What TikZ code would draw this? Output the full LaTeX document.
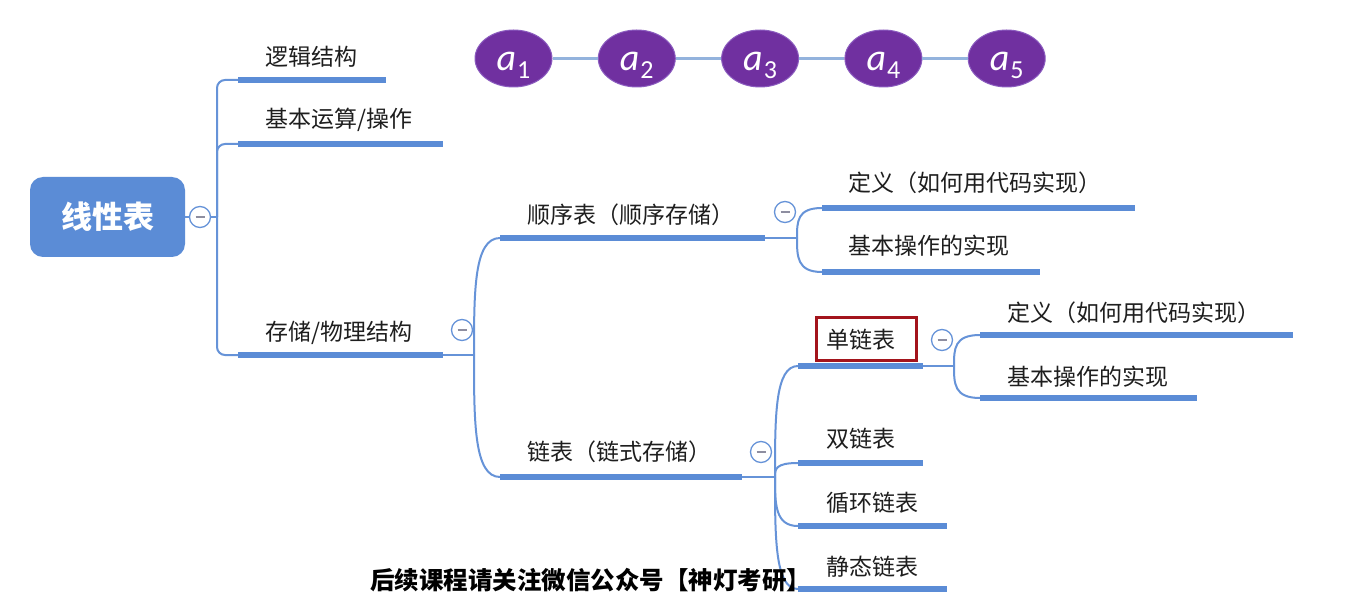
\documentclass[tikz,border=0pt]{standalone}
\usepackage{fontspec}
\newfontfamily\zhfont{Noto Sans CJK SC}
\newfontfamily\elfont{Carlito}
\usetikzlibrary{positioning, calc, shapes.geometric}
\definecolor{mapblue}{HTML}{5B8CD6}
\definecolor{lineblue}{HTML}{6693D8}
\definecolor{chainblue}{HTML}{93B3DD}
\definecolor{elpurple}{HTML}{7030A0}
\definecolor{eledge}{HTML}{8B5CBF}
\definecolor{markred}{HTML}{A3141C}
\definecolor{minusgray}{HTML}{8E8EA0}
\definecolor{ink}{HTML}{1E1E1E}
\newcommand{\elem}[1]{{\itshape a\kern1pt}\raisebox{-8pt}{\fontsize{26}{28}\selectfont #1}}
\newcommand{\foldmark}{\textcolor{minusgray}{\rule{9pt}{1.2pt}}}
\tikzset{
  t/.style={font=\zhfont\fontsize{23}{27}\selectfont, text=ink, anchor=west, inner sep=0pt},
  note/.style={font=\zhfont\bfseries\fontsize{24.5}{28}\selectfont, text=black, anchor=west, inner sep=0pt},
  root/.style={fill=mapblue, rounded corners=13pt, minimum width=155pt, minimum height=80pt, font=\zhfont\bfseries\fontsize{31}{36}\selectfont, text=white},
  bar/.style={fill=mapblue, minimum width=#1, minimum height=5.5pt, inner sep=0pt, anchor=west},
  ln/.style={draw=lineblue, line width=2pt},
  branch/.style={to path={.. controls ($(\tikztostart)!0.55!(\tikztostart |- \tikztotarget)$) and (\tikztostart |- \tikztotarget) .. (\tikztotarget)}},
  fold/.style={circle, draw=lineblue, fill=white, line width=1.3pt, minimum size=21pt, inner sep=0pt},
  redbox/.style={draw=markred, line width=3pt, minimum width=100pt, minimum height=42pt},
  el/.style={ellipse, fill=elpurple, draw=eledge, line width=1pt, minimum width=77pt, minimum height=57pt, inner sep=0pt, text height=32pt, text depth=8pt, font=\elfont\fontsize{38}{42}\selectfont, text=white},
  chain/.style={draw=chainblue, line width=2.5pt},
}
\begin{document}
\begin{tikzpicture}[x=1pt, y=-1pt]
\path[use as bounding box, fill=white] (0,0) rectangle (1345,604);

% elements of the list
\node[el] (a1) at (513.5,58.5) {\elem{1}};
\foreach \i [remember=\i as \j (initially 1)] in {2,...,5}{
  \node[el, right=45.3pt of a\j] (a\i) {\elem{\i}};
  \draw[chain] (a\j) -- (a\i);
}

% root and first level
\node[root] (root) at (107.5,217) {线性表};
\coordinate (trunk) at (217,217);
\node[bar=148] (logicbar) at (238,80) {};
\node[bar=205] (basicbar) at (238,144) {};
\node[bar=205] (storebar) at (238,355) {};
\node[t] (logic) at ($(logicbar.west)+(27,-23)$) {逻辑结构};
\node[t] (basic) at ($(basicbar.west)+(27,-24)$) {基本运算/操作};
\node[t] (store) at ($(storebar.west)+(27,-22)$) {存储/物理结构};

% storage
\coordinate (storefork) at (474,355);
\node[bar=265] (seqbar) at (500,238) {};
\node[bar=242] (linkbar) at (500,477) {};
\node[t] (seq) at ($(seqbar.west)+(27,-23)$) {顺序表（顺序存储）};
\node[t] (link) at ($(linkbar.west)+(27,-25)$) {链表（链式存储）};

% sequential list
\coordinate (seqfork) at (797,238);
\node[bar=313] (def1bar) at (822,208) {};
\node[bar=218] (op1bar) at (822,272) {};
\node[t] (def1) at ($(def1bar.west)+(26,-25)$) {定义（如何用代码实现）};
\node[t] (op1) at ($(op1bar.west)+(26,-26)$) {基本操作的实现};

% linked lists
\coordinate (linkfork) at (775,477);
\node[bar=125] (singlebar) at (798,366) {};
\node[bar=125] (dblbar) at (798,463) {};
\node[bar=149] (circbar) at (798,526) {};
\node[bar=149] (statbar) at (798,589) {};
\node[t] (single) at ($(singlebar.west)+(28,-26)$) {单链表};
\node[t] (dbl) at ($(dblbar.west)+(28,-24)$) {双链表};
\node[t] (circ) at ($(circbar.west)+(28,-23)$) {循环链表};
\node[t] (stat) at ($(statbar.west)+(28,-22)$) {静态链表};
\node[redbox] (hl) at (866,339) {};

\coordinate (singlefork) at (954,366);
\node[bar=313] (def2bar) at (980,335) {};
\node[bar=217] (op2bar) at (980,398) {};
\node[t] (def2) at ($(def2bar.west)+(27,-22)$) {定义（如何用代码实现）};
\node[t] (op2) at ($(op2bar.west)+(27,-21)$) {基本操作的实现};

% connectors
\draw[ln] (root.east) -- (trunk);
\draw[ln, rounded corners=8pt] (trunk) |- (logicbar.west);
\draw[ln, rounded corners=8pt] (trunk) |- (basicbar.west);
\draw[ln, rounded corners=8pt] (trunk) |- (storebar.west);
\draw[ln] (storebar.east) -- (storefork);
\draw[ln] (storefork) to[branch] (seqbar.west);
\draw[ln] (storefork) to[branch] (linkbar.west);
\draw[ln] (seqbar.east) -- (seqfork);
\draw[ln] (seqfork) to[branch] (def1bar.west);
\draw[ln] (seqfork) to[branch] (op1bar.west);
\draw[ln] (linkbar.east) -- (linkfork);
\draw[ln] (linkfork) to[branch] (singlebar.west);
\draw[ln] (linkfork) to[branch] (dblbar.west);
\draw[ln] (linkfork) to[branch] (circbar.west);
\draw[ln] (linkfork) to[branch] (statbar.west);
\draw[ln] (singlebar.east) -- (singlefork);
\draw[ln] (singlefork) to[branch] (def2bar.west);
\draw[ln] (singlefork) to[branch] (op2bar.west);

% collapse marks
\node[fold] (f0) at (200,217) {\foldmark};
\node[fold] (f1) at (462,330) {\foldmark};
\node[fold] (f2) at (785,212) {\foldmark};
\node[fold] (f3) at (761,452) {\foldmark};
\node[fold] (f4) at (942,340) {\foldmark};

\node[note] (wm) at (370,580) {后续课程请关注微信公众号【神灯考研】};
\end{tikzpicture}
\end{document}
